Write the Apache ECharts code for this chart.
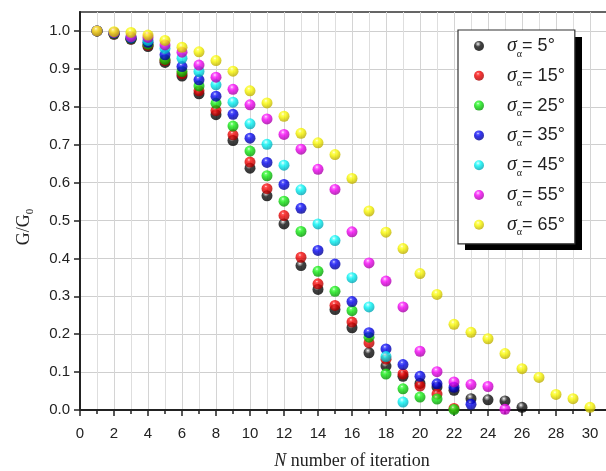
<!DOCTYPE html>
<html>
<head>
<meta charset="utf-8">
<script src="https://cdn.jsdelivr.net/npm/echarts@6/dist/echarts.min.js"></script>
<style>
  html, body { margin: 0; background: #fff; }
  #chart { width: 606px; height: 471px; }
</style>
</head>
<body>
<div id="chart"></div>
<script>
// sigma_alpha of each series, in degrees
const ANGLES = ['5', '15', '25', '35', '45', '55', '65'];

// G/G0, starting at N = 1
const G_5 = [1.0, 0.991, 0.978, 0.959, 0.917, 0.881, 0.834, 0.779, 0.711, 0.638, 0.565, 0.491, 0.381,
  0.318, 0.265, 0.217, 0.151, 0.116, 0.089, 0.070, 0.061, 0.052, 0.030, 0.027, 0.024, 0.007];
const G_15 = [1.0, 0.992, 0.979, 0.962, 0.922, 0.887, 0.842, 0.790, 0.726, 0.654, 0.584, 0.513, 0.403,
  0.333, 0.276, 0.232, 0.177, 0.134, 0.095, 0.063, 0.042, 0.004];
const G_25 = [1.0, 0.993, 0.980, 0.965, 0.925, 0.893, 0.855, 0.809, 0.749, 0.683, 0.618, 0.551, 0.471,
  0.366, 0.313, 0.262, 0.192, 0.095, 0.056, 0.034, 0.029, 0.001];
const G_35 = [1.0, 0.994, 0.981, 0.970, 0.937, 0.906, 0.871, 0.828, 0.780, 0.717, 0.653, 0.595, 0.532,
  0.421, 0.385, 0.286, 0.204, 0.161, 0.120, 0.089, 0.069, 0.060, 0.015];
const G_45 = [1.0, 0.996, 0.984, 0.975, 0.954, 0.928, 0.893, 0.858, 0.812, 0.755, 0.701, 0.646, 0.581,
  0.491, 0.447, 0.349, 0.272, 0.141, 0.021];
const G_55 = [1.0, 0.996, 0.985, 0.983, 0.963, 0.944, 0.910, 0.878, 0.846, 0.805, 0.768, 0.727, 0.688,
  0.635, 0.582, 0.470, 0.388, 0.340, 0.272, 0.155, 0.101, 0.074, 0.067, 0.062, 0.002];
const G_65 = [1.0, 0.998, 0.996, 0.989, 0.975, 0.957, 0.945, 0.922, 0.894, 0.842, 0.810, 0.775, 0.730,
  0.705, 0.674, 0.611, 0.525, 0.469, 0.426, 0.360, 0.305, 0.226, 0.205, 0.188, 0.149, 0.109, 0.086,
  0.041, 0.030, 0.007];
const SERIES_DATA = [G_5, G_15, G_25, G_35, G_45, G_55, G_65];

const Y_TICKS = [0, 0.1, 0.2, 0.3, 0.4, 0.5, 0.6, 0.7, 0.8, 0.9, 1.0];

// highlight / body / shade colours for the shiny balls
const BALLS = [
  ['#9a9a9a', '#111111', '#000000'],
  ['#ff3030', '#f00000', '#a00000'],
  ['#50ff50', '#10e810', '#009000'],
  ['#4040ff', '#0000ee', '#000088'],
  ['#70ffff', '#00f4f4', '#00a0b0'],
  ['#ff60ff', '#f400f4', '#a000a0'],
  ['#ffff50', '#f8f800', '#b8a800'],
];

function ball(c) {
  return {
    type: 'radial', x: 0.4, y: 0.3, r: 0.72,
    colorStops: [
      { offset: 0, color: '#ffffff' },
      { offset: 0.14, color: c[0] },
      { offset: 0.4, color: c[1] },
      { offset: 1, color: c[2] },
    ],
  };
}

const chart = echarts.init(document.getElementById('chart'));

chart.setOption({
  animation: false,
  backgroundColor: '#fff',
  grid: {
    left: 80, top: 12, right: -18, bottom: 61,
    outerBoundsMode: 'none',
    show: true, borderColor: '#333', borderWidth: 1.5,
  },
  // drop shadow of the legend box
  graphic: [{
    type: 'rect', z: 3, silent: true,
    shape: { x: 465, y: 37, width: 117, height: 213 },
    style: { fill: '#000' },
  }],
  legend: {
    z: 5,
    orient: 'vertical',
    left: 458, top: 30,
    padding: [6, 10, 6, 16],
    itemGap: 6.8,
    itemWidth: 10, itemHeight: 10,
    icon: 'circle',
    backgroundColor: '#fff',
    borderColor: '#333', borderWidth: 1.2,
    formatter: (name) => `{p|}{s|σ}{sub|α}{t|= ${name}°}`,
    textStyle: {
      rich: {
        p: { width: 18 },
        s: { fontFamily: 'Liberation Serif', fontStyle: 'italic', fontSize: 20, lineHeight: 26, color: '#222' },
        sub: { fontFamily: 'Liberation Serif', fontSize: 10, lineHeight: 4, verticalAlign: 'bottom', color: '#222' },
        t: { fontFamily: 'Liberation Sans', fontSize: 18, lineHeight: 26, color: '#222' },
      },
    },
  },
  xAxis: {
    type: 'value',
    min: 0, max: 32, interval: 2,
    name: '{i|N} number of iteration',
    nameLocation: 'middle', nameGap: 42,
    nameTextStyle: {
      rich: {
        i: { fontFamily: 'Liberation Serif', fontStyle: 'italic', fontSize: 18, color: '#222' },
      },
      fontFamily: 'Liberation Serif', fontSize: 18, color: '#222',
    },
    axisLine: { onZero: false, lineStyle: { color: '#222', width: 2 } },
    axisTick: { length: 6, lineStyle: { color: '#222', width: 1.5 } },
    minorTick: { show: true, splitNumber: 2, length: 4, lineStyle: { color: '#222', width: 1.5 } },
    axisLabel: { margin: 16, fontFamily: 'Liberation Sans', fontSize: 15, color: '#222' },
    splitLine: { lineStyle: { color: '#d4d4d4', width: 1 } },
    minorSplitLine: { show: true, lineStyle: { color: '#dedede', width: 1 } },
  },
  yAxis: {
    type: 'value',
    min: 0, max: 1.05, interval: 0.1,
    name: '{a|G/G}{b|0}',
    nameLocation: 'middle', nameGap: 44,
    nameTextStyle: {
      padding: [0, 32, 0, 0],
      rich: {
        a: { fontFamily: 'Liberation Serif', fontSize: 18, lineHeight: 24, color: '#222' },
        b: { fontFamily: 'Liberation Serif', fontSize: 11, lineHeight: 4, verticalAlign: 'bottom', color: '#222' },
      },
    },
    axisLine: { show: true, onZero: false, lineStyle: { color: '#222', width: 2 } },
    axisTick: { show: true, length: 6, customValues: Y_TICKS, lineStyle: { color: '#222', width: 1.5 } },
    axisLabel: {
      margin: 10, fontFamily: 'Liberation Sans', fontSize: 15, color: '#222',
      customValues: Y_TICKS,
      formatter: (v) => v.toFixed(1),
    },
    splitLine: { lineStyle: { color: '#cfcfcf', width: 1.2 } },
  },
  series: SERIES_DATA.map((vals, i) => ({
    name: ANGLES[i],
    type: 'scatter',
    symbol: 'circle',
    symbolSize: 11,
    itemStyle: { color: ball(BALLS[i]) },
    data: vals.map((v, k) => [k + 1, v]),
  })),
});
</script>
</body>
</html>
